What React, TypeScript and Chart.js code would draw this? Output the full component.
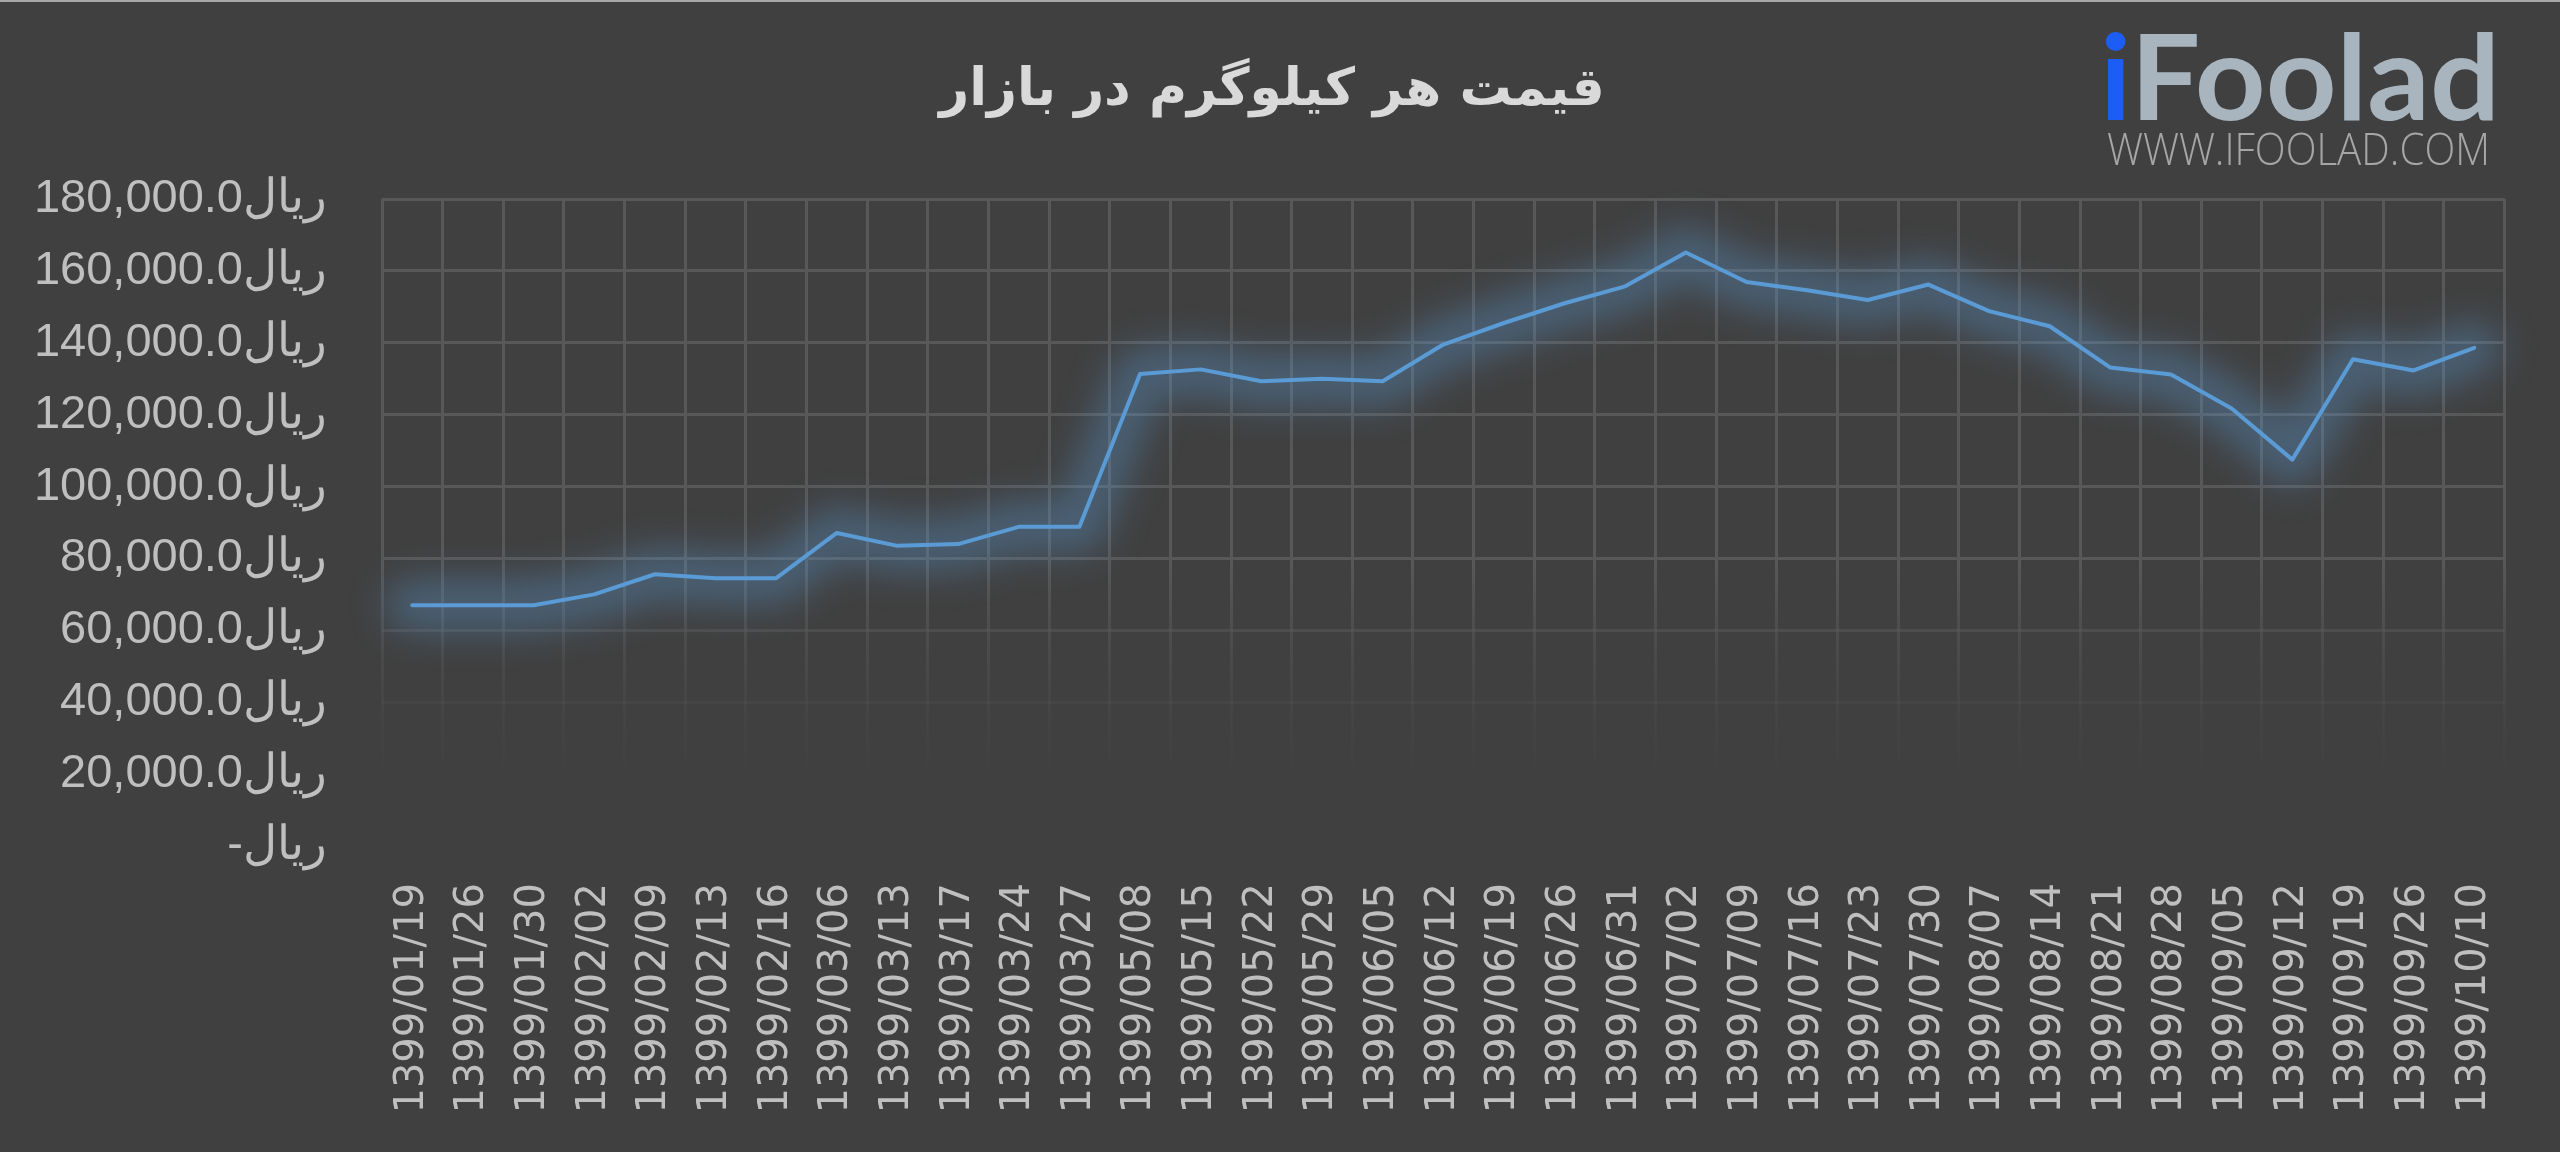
import React, { useEffect, useRef } from "react";
import { Chart, registerables } from "chart.js";

Chart.register(...registerables);

const chartTitle = "قیمت هر کیلوگرم در بازار";
const currencyUnit = "ریال";

const dateLabels = [
  "1399/01/19", "1399/01/26", "1399/01/30", "1399/02/02", "1399/02/09",
  "1399/02/13", "1399/02/16", "1399/03/06", "1399/03/13", "1399/03/17",
  "1399/03/24", "1399/03/27", "1399/05/08", "1399/05/15", "1399/05/22",
  "1399/05/29", "1399/06/05", "1399/06/12", "1399/06/19", "1399/06/26",
  "1399/06/31", "1399/07/02", "1399/07/09", "1399/07/16", "1399/07/23",
  "1399/07/30", "1399/08/07", "1399/08/14", "1399/08/21", "1399/08/28",
  "1399/09/05", "1399/09/12", "1399/09/19", "1399/09/26", "1399/10/10",
];

const pricePerKg = [
  67000, 67000, 67000, 70000, 75600,
  74500, 74500, 87100, 83500, 84000,
  88800, 88800, 131300, 132600, 129300,
  130000, 129300, 139500, 145500, 151000,
  155700, 165100, 156900, 154600, 151900,
  156200, 148800, 144600, 133100, 131200,
  121700, 107500, 135400, 132300, 138600,
];

const yMin = 0;
const yMax = 180000;
const yStep = 20000;

const BG = "#404040";
const LINE = "#5b9bd5";
const TICK = "#bfbfbf";

function gridGradient(chart: any) {
  const area = chart.chartArea;
  if (!area) return "rgba(88,88,88,1)";
  const g = chart.ctx.createLinearGradient(0, area.top, 0, area.bottom);
  g.addColorStop(0, "rgba(88,88,88,1)");
  g.addColorStop(0.56, "rgba(88,88,88,1)");
  g.addColorStop(0.67, "rgba(88,88,88,0.55)");
  g.addColorStop(0.78, "rgba(88,88,88,0.22)");
  g.addColorStop(0.9, "rgba(88,88,88,0)");
  g.addColorStop(1, "rgba(88,88,88,0)");
  return g;
}

const glowPlugin = {
  id: "lineGlow",
  beforeDatasetDraw(chart: any, args: any) {
    const pts = args.meta.data;
    if (!pts || pts.length < 2) return;
    const ctx = chart.ctx;
    ctx.save();
    ctx.filter = "blur(18px)";
    ctx.strokeStyle = "rgba(91,155,213,0.36)";
    ctx.lineWidth = 52;
    ctx.lineJoin = "round";
    ctx.lineCap = "round";
    ctx.beginPath();
    pts.forEach((p: any, i: number) => {
      if (i === 0) ctx.moveTo(p.x, p.y);
      else ctx.lineTo(p.x, p.y);
    });
    ctx.stroke();
    ctx.restore();
  },
};

export default function App() {
  const canvasRef = useRef<HTMLCanvasElement | null>(null);

  useEffect(() => {
    if (!canvasRef.current) return;
    const chart = new Chart(canvasRef.current, {
      type: "line",
      data: {
        labels: dateLabels,
        datasets: [
          {
            data: pricePerKg,
            borderColor: LINE,
            borderWidth: 4,
            pointRadius: 0,
            tension: 0,
            fill: false,
            borderJoinStyle: "round",
            borderCapStyle: "round",
          } as any,
        ],
      },
      options: {
        animation: false,
        responsive: false,
        devicePixelRatio: 1,
        layout: { padding: { left: 36, right: 52, top: 0, bottom: 0 } },
        plugins: {
          legend: { display: false },
          tooltip: { enabled: false },
          title: {
            display: true,
            text: chartTitle,
            color: "#d9d9d9",
            font: { family: "'DejaVu Sans'", size: 52, weight: "bold" },
            padding: { top: 60, bottom: 76.6 },
          },
        },
        scales: {
          x: {
            type: "category",
            offset: true,
            border: { display: false },
            grid: {
              offset: true,
              drawTicks: false,
              lineWidth: 3,
              color: (c: any) => gridGradient(c.chart),
            },
            ticks: {
              autoSkip: false,
              maxRotation: 90,
              minRotation: 90,
              padding: 37,
              color: TICK,
              font: { family: "'DejaVu Sans'", size: 40 },
            },
            afterFit: (scale: any) => {
              scale.height = 306;
            },
          },
          y: {
            min: yMin,
            max: yMax,
            border: { display: false },
            grid: {
              drawTicks: false,
              lineWidth: 3,
              color: (c: any) => gridGradient(c.chart),
            },
            ticks: {
              stepSize: yStep,
              padding: 55,
              color: TICK,
              font: { family: "'Liberation Sans'", size: 47 },
              callback: (v: any) =>
                Number(v) === 0
                  ? "-" + currencyUnit
                  : Number(v).toLocaleString("en-US", {
                      minimumFractionDigits: 1,
                      maximumFractionDigits: 1,
                    }) + currencyUnit,
            },
            afterFit: (scale: any) => {
              scale.width = 346;
            },
          },
        },
      },
      plugins: [glowPlugin],
    });
    return () => chart.destroy();
  }, []);

  return (
    <div
      style={{
        position: "fixed",
        left: 0,
        top: 0,
        width: 2560,
        height: 1152,
        background: BG,
        overflow: "hidden",
      }}
    >
      <canvas
        ref={canvasRef}
        width={2560}
        height={1152}
        style={{ display: "block", width: 2560, height: 1152 }}
      />
      <div
        style={{
          position: "absolute",
          left: 0,
          top: 0,
          width: 2560,
          height: 2,
          background: "#a8a8a8",
        }}
      />
      <svg
        width={2560}
        height={1152}
        style={{ position: "absolute", left: 0, top: 0, pointerEvents: "none" }}
      >
        <text
          x={2100}
          y={120}
          fontFamily="Lato, 'Noto Sans', sans-serif"
          fontWeight={700}
          fontSize={118}
          textLength={400}
          lengthAdjust="spacingAndGlyphs"
        >
          <tspan fill="#1c5ef5">i</tspan>
          <tspan fill="#a8b5bf">Foolad</tspan>
        </text>
        <text
          x={2107}
          y={165}
          fontFamily="'Open Sans', sans-serif"
          fontWeight={300}
          fontSize={44}
          textLength={383}
          lengthAdjust="spacingAndGlyphs"
          fill="#a6a6a6"
        >
          WWW.IFOOLAD.COM
        </text>
      </svg>
    </div>
  );
}
